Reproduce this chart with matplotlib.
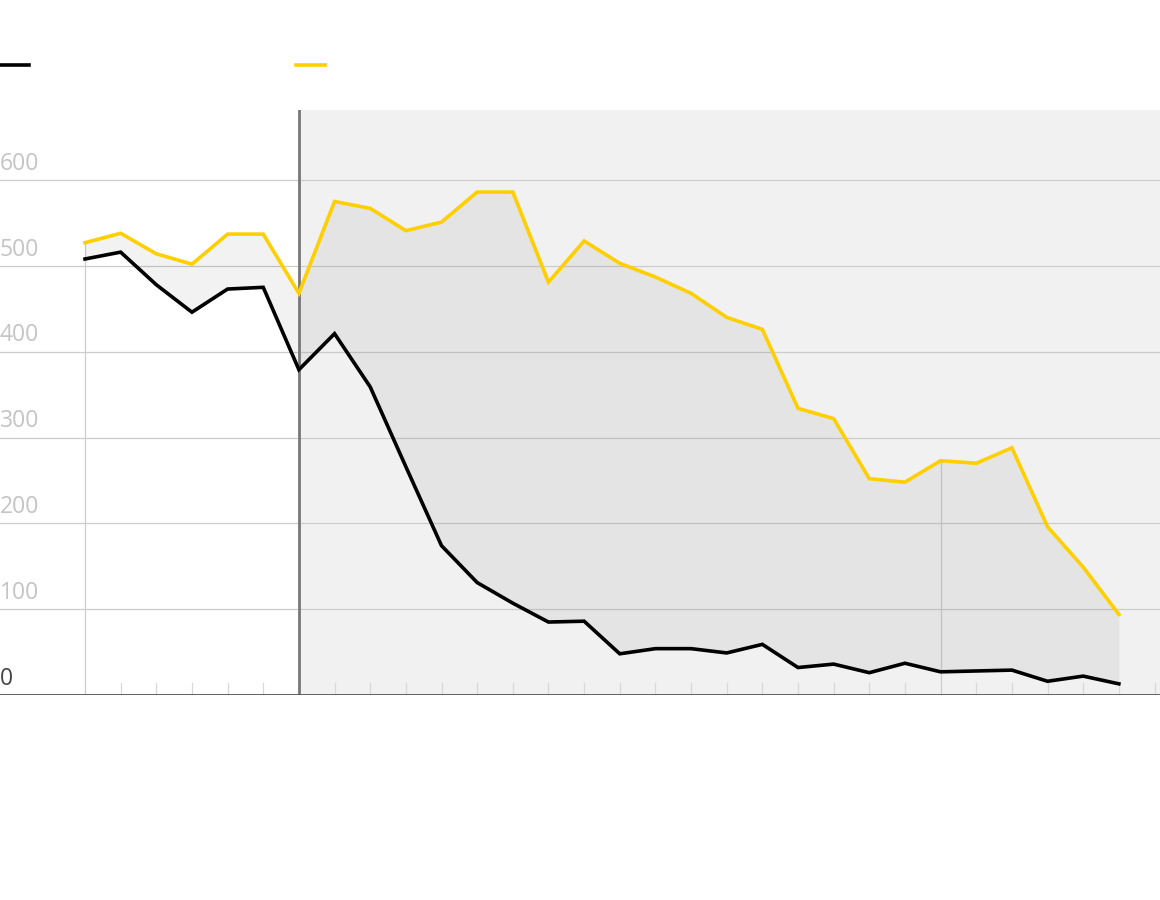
import numpy as np
import matplotlib as mpl
mpl.use('Agg')
import matplotlib.pyplot as plt
from matplotlib.lines import Line2D

# values (30 periods)
yellow = [527, 538, 514, 502, 537, 537, 468, 575, 567, 541,
          551, 586, 586, 481, 529, 503, 487, 468, 440, 426,
          334, 322, 252, 248, 273, 270, 288, 196, 149, 94]
black = [508, 516, 478, 446, 473, 475, 379, 421, 359, 266,
         174, 131, 107, 85, 86, 48, 54, 54, 49, 59,
         32, 36, 26, 37, 27, 28, 29, 16, 22, 13]
yticks = [0, 100, 200, 300, 400, 500, 600]
shade_start = 6
marker_idx = [0, 24]

x = np.arange(len(yellow))
yel_col = '#ffcf00'

fig = plt.figure(figsize=(11.6, 9), dpi=100)
ax = fig.add_axes([0, 1 - 695 / 900, 1, (695 - 110) / 900])
ax.set_xlim(-85 / 35.65, 1160 / 35.65 - 85 / 35.65)
ax.set_ylim(0, 681.6)

# shaded period
ax.axvspan(shade_start, ax.get_xlim()[1], color='#f1f1f1', lw=0, zorder=0)
ax.axvline(shade_start, color='#777777', lw=2, zorder=3)

for t in yticks[1:]:
    ax.axhline(t, color='#cccccc', lw=0.9, zorder=1)
for t in yticks:
    col = '#444444' if t == 0 else '#c4c4c4'
    ax.text(ax.get_xlim()[0], t + 5, str(t), fontsize=16.5, color=col,
            family='Open Sans', ha='left', va='bottom', zorder=5)

for i in marker_idx:
    ax.plot([i, i], [0, yellow[i]], color='#cccccc', lw=0.9, zorder=1)

# small ticks along the baseline
for i in range(1, len(x) + 1):
    if i in marker_idx or i == shade_start:
        continue
    ax.plot([i, i], [0, 14], color='#d8d8d8', lw=0.9, zorder=1)

ax.fill_between(x, black, yellow, color='black', alpha=0.05, lw=0, zorder=2)
ax.plot(x, yellow, color=yel_col, lw=2.6, zorder=4, solid_joinstyle='miter')
ax.plot(x, black, color='black', lw=2.6, zorder=4, solid_joinstyle='miter')
ax.axhline(0, color='#555555', lw=1.3, zorder=4)

for s in ax.spines.values():
    s.set_visible(False)
ax.set_xticks([])
ax.set_yticks([])
ax.patch.set_alpha(0)

# legend swatches without text
fig.add_artist(Line2D([0, 29 / 1160], [1 - 65 / 900] * 2, color='black', lw=2.6))
fig.add_artist(Line2D([296 / 1160, 325 / 1160], [1 - 65 / 900] * 2, color=yel_col, lw=2.6))

fig.savefig('out.png', dpi=100, facecolor='white')
